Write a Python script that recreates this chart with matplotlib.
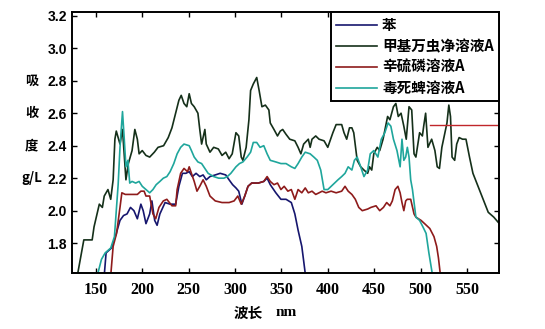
import numpy as np, matplotlib
matplotlib.use("Agg"); import matplotlib.pyplot as plt
from matplotlib.transforms import blended_transform_factory

# wavelength (nm) / absorbance (g/L)
wl_ben = [159, 161, 166.8, 172, 176, 179.8, 183.6, 187.3, 191, 194.7, 198.5, 201, 204, 208, 210.4,
          213.4, 216, 219, 224.6, 230, 236, 239.5, 243.3, 247, 250.6, 254, 258, 262, 265.6, 269, 273,
          278.7, 284, 290, 293.6, 297.4, 301, 304, 307.4, 310.5, 314, 318, 325, 331, 334.6, 338, 344,
          349.5, 355, 360.7, 364.5, 368, 372, 373.8, 376]
ab_ben = [1.60, 1.74, 1.77, 1.86, 1.94, 1.97, 1.98, 2.02, 2.00, 1.95, 2.04, 2.00, 1.92, 1.98, 2.06,
          1.94, 1.91, 1.98, 2.05, 2.04, 2.04, 2.15, 2.23, 2.23, 2.24, 2.21, 2.23, 2.21, 2.22, 2.19, 2.21,
          2.22, 2.23, 2.22, 2.19, 2.16, 2.14, 2.12, 2.04, 2.09, 2.15, 2.17, 2.17, 2.18, 2.20, 2.16, 2.11,
          2.07, 2.07, 2.05, 1.98, 1.88, 1.78, 1.70, 1.60]

wl_jj = [130, 137, 146, 148, 153.7, 157, 159, 163, 166, 168.6, 170.5, 172, 176, 178.7, 181, 182.4,
         185, 189, 192, 194.7, 196.6, 200, 204, 208, 213, 217, 223, 228, 232, 236, 239.5, 242, 245,
         248, 250.6, 253, 256, 260, 262, 264, 267.5, 269, 273, 277, 282, 286, 290, 293.6, 297, 301,
         304, 306.7, 308.5, 312, 315, 316.8, 319.7, 323.4, 326, 329, 332.7, 336.5, 338, 342, 345.8,
         348.8, 351.4, 355, 359, 364.5, 368, 371, 374, 379, 381, 383, 387, 390.6, 396, 400, 405.5,
         409, 415, 417.5, 420.4, 423.4, 426, 428, 431.7, 435.5, 439, 443, 445, 447.4, 449.6, 453.3,
         456, 459.6, 464.5, 467, 470.8, 473.4, 476, 479, 482, 484.6, 487.6, 490.5, 493, 495, 499, 502,
         503.4, 505.5, 508, 512, 515.5, 518, 520.4, 523, 525.6, 528.5, 530.5, 532.3, 534, 536.8, 539,
         541.6, 545.3, 549, 552.8, 556.5, 562, 567.6, 573, 579, 585]
ab_jj = [1.60, 1.82, 1.82, 1.90, 2.04, 2.02, 2.09, 2.13, 2.07, 2.19, 2.44, 2.49, 2.41, 2.50, 2.31, 2.19,
         2.29, 2.37, 2.50, 2.44, 2.35, 2.37, 2.34, 2.33, 2.36, 2.39, 2.40, 2.45, 2.51, 2.60, 2.68, 2.71,
         2.66, 2.64, 2.72, 2.66, 2.64, 2.60, 2.50, 2.41, 2.50, 2.41, 2.36, 2.39, 2.38, 2.34, 2.36, 2.32,
         2.35, 2.48, 2.46, 2.33, 2.31, 2.39, 2.56, 2.74, 2.78, 2.82, 2.74, 2.64, 2.65, 2.62, 2.54, 2.50,
         2.46, 2.49, 2.50, 2.47, 2.44, 2.43, 2.39, 2.35, 2.41, 2.44, 2.39, 2.44, 2.46, 2.44, 2.43, 2.39,
         2.48, 2.53, 2.53, 2.48, 2.44, 2.51, 2.51, 2.48, 2.31, 2.27, 2.25, 2.23, 2.27, 2.25, 2.35, 2.39,
         2.37, 2.44, 2.58, 2.56, 2.64, 2.66, 2.58, 2.60, 2.52, 2.44, 2.64, 2.62, 2.35, 2.33, 2.48, 2.46,
         2.52, 2.60, 2.39, 2.44, 2.37, 2.27, 2.26, 2.39, 2.46, 2.54, 2.65, 2.58, 2.33, 2.31, 2.41, 2.45,
         2.44, 2.44, 2.33, 2.23, 2.15, 2.07, 1.99, 1.96, 1.92]

wl_xl = [166, 168.6, 172.3, 176, 178, 181.7, 189, 194.7, 198.5, 202, 204, 208, 211.5, 214.5, 218,
         222.7, 226.5, 232, 236, 237.6, 241.4, 245, 248.8, 250.6, 253, 256, 259, 262, 265.6, 269, 273,
         278.7, 286, 293.6, 299, 303, 306.7, 310.5, 314, 318, 325.3, 331, 334.6, 338, 342, 345.8, 349.5,
         353, 357, 360.7, 364.5, 368, 372, 375.7, 379, 383, 387, 390.6, 394, 398, 403.6, 409, 415, 418.6,
         422, 426, 429.7, 433.4, 437.2, 443, 446.5, 452, 456, 460, 463.5, 467, 469.6, 472.6, 475.6, 478,
         480, 482, 484, 485.7, 489.4, 493, 495, 500.6, 504.4, 510, 514.5, 517.4, 519.3, 521.5]
ab_xl = [1.60, 1.78, 1.86, 2.02, 2.11, 2.10, 2.10, 2.10, 2.12, 2.12, 2.09, 2.09, 1.98, 1.95, 2.02,
         2.06, 2.07, 2.03, 2.03, 2.13, 2.23, 2.26, 2.24, 2.27, 2.23, 2.18, 2.12, 2.15, 2.19, 2.15, 2.09,
         2.06, 2.05, 2.05, 2.06, 2.09, 2.04, 2.09, 2.15, 2.17, 2.17, 2.18, 2.21, 2.18, 2.16, 2.17, 2.13,
         2.15, 2.12, 2.13, 2.07, 2.13, 2.11, 2.14, 2.11, 2.12, 2.10, 2.11, 2.12, 2.11, 2.12, 2.11, 2.12,
         2.15, 2.12, 2.10, 2.07, 2.02, 2.00, 2.01, 2.02, 2.03, 2.00, 2.02, 2.05, 2.03, 2.06, 2.13, 2.15,
         2.11, 2.05, 2.00, 2.06, 2.07, 2.07, 1.98, 1.96, 1.94, 1.92, 1.89, 1.84, 1.78, 1.71, 1.60]
# stray red level at the right edge
wl_xl_tail = [510, 585]
ab_xl_tail = [2.53, 2.53]

wl_ds = [151.5, 156, 160, 166, 170, 174, 176, 178.7, 180.6, 182.4, 184.5, 186.5, 189, 192.9, 196.6,
         200, 204, 208, 211.5, 215, 219, 222.7, 226.5, 230, 234, 237.6, 241.4, 245, 250.6, 253, 256,
         260, 264, 267.5, 271, 277, 282.4, 288, 291.7, 295.5, 301, 304.8, 308.5, 313, 316.8, 319.7,
         323.4, 327, 331, 334.6, 338, 344, 349.5, 355, 360.7, 364.5, 368, 372, 375.7, 381, 385, 388.7,
         392.4, 396, 400, 405.5, 411, 415, 418.6, 422, 426, 428.7, 431.7, 435.5, 439, 443, 445.8, 449.6,
         454, 457.7, 461.5, 465, 468, 470.8, 474.6, 478, 480, 482, 484, 485.8, 487.6, 489.4, 491.3, 495,
         499, 502.6, 506, 509, 513]
ab_ds = [1.60, 1.70, 1.74, 1.77, 1.84, 2.16, 2.39, 2.61, 2.44, 2.27, 2.31, 2.17, 2.18, 2.17, 2.18,
         2.15, 2.13, 2.11, 2.13, 2.16, 2.18, 2.20, 2.21, 2.24, 2.29, 2.35, 2.39, 2.41, 2.40, 2.37, 2.33,
         2.30, 2.29, 2.26, 2.23, 2.21, 2.20, 2.20, 2.21, 2.23, 2.27, 2.29, 2.30, 2.33, 2.36, 2.42,
         2.42, 2.39, 2.40, 2.35, 2.31, 2.30, 2.29, 2.29, 2.27, 2.26, 2.29, 2.33, 2.36, 2.35, 2.33, 2.31,
         2.25, 2.13, 2.13, 2.16, 2.19, 2.21, 2.23, 2.27, 2.25, 2.31, 2.33, 2.27, 2.21, 2.25, 2.35, 2.37,
         2.33, 2.44, 2.48, 2.54, 2.52, 2.44, 2.37, 2.27, 2.44, 2.31, 2.33, 2.39, 2.33, 2.19, 2.13, 1.96,
         1.94, 1.90, 1.86, 1.74, 1.60]

names = ["苯", "甲基万虫净溶液A", "辛硫磷溶液A", "毒死蜱溶液A"]
xticks = [150, 200, 250, 300, 350, 400, 450, 500, 550]
yticks = [1.8, 2.0, 2.2, 2.4, 2.6, 2.8, 3.0, 3.2]
ylab_chars = ["吸", "收", "度", "g/L"]

BLU = "#16166e"; GRN = "#15301a"; RED = "#8e1b1b"; TEA = "#1fa69c"
CJK = ["Noto Sans CJK SC", "DejaVu Sans"]

fig = plt.figure(figsize=(5.45, 3.29), dpi=100)
ax = fig.add_axes([0.1327, 0.1711, 0.7829, 0.7933])

ax.plot(wl_ben, ab_ben, color=BLU, lw=1.2, label=names[0])
ax.plot(wl_jj, ab_jj, color=GRN, lw=1.2, label=names[1])
ax.plot(wl_xl, ab_xl, color=RED, lw=1.2, label=names[2])
ax.plot(wl_xl_tail, ab_xl_tail, color="#c0262a", lw=1.0)
ax.plot(wl_ds, ab_ds, color=TEA, lw=1.2, label=names[3])

ax.set_xlim(124.6, 584.6); ax.set_ylim(1.618, 3.225)
ax.set_xticks(xticks); ax.set_yticks(yticks)
ax.set_xticklabels([str(v) for v in xticks], fontfamily="Liberation Serif", fontweight="bold", fontsize=11.5)
ax.set_yticklabels([f"{v:.1f}" for v in yticks], fontfamily="Liberation Sans", fontweight="bold", fontsize=10)
ax.tick_params(direction="in", length=3.5, width=1.0, top=True, right=True, pad=4)
ax.tick_params(axis="x", pad=7)
for s in ax.spines.values():
    s.set_linewidth(1.4)

tr = blended_transform_factory(fig.transFigure, ax.transData)
for ch, yv in zip(ylab_chars, [2.8, 2.6, 2.4, 2.2]):
    ax.text(0.058, yv, ch, transform=tr, ha="center", va="center", fontsize=9.5,
            fontweight="bold", family=CJK)

fig.text(248/545, 1-313/329, "波长", ha="center", va="center", fontsize=10.5, fontweight="bold", family=CJK)
fig.text(286/545, 1-312/329, "nm", ha="center", va="center", fontsize=11, fontweight="bold",
         family="Liberation Serif")

leg = ax.legend(loc="upper right", borderaxespad=0, fancybox=False, framealpha=1,
                handlelength=2.8, handletextpad=0.35, labelspacing=0.35, borderpad=0.35,
                prop={"family": CJK, "weight": "bold", "size": 10.5})
leg.get_frame().set_edgecolor("black"); leg.get_frame().set_linewidth(1.4)

plt.savefig("out.png", dpi=100)
